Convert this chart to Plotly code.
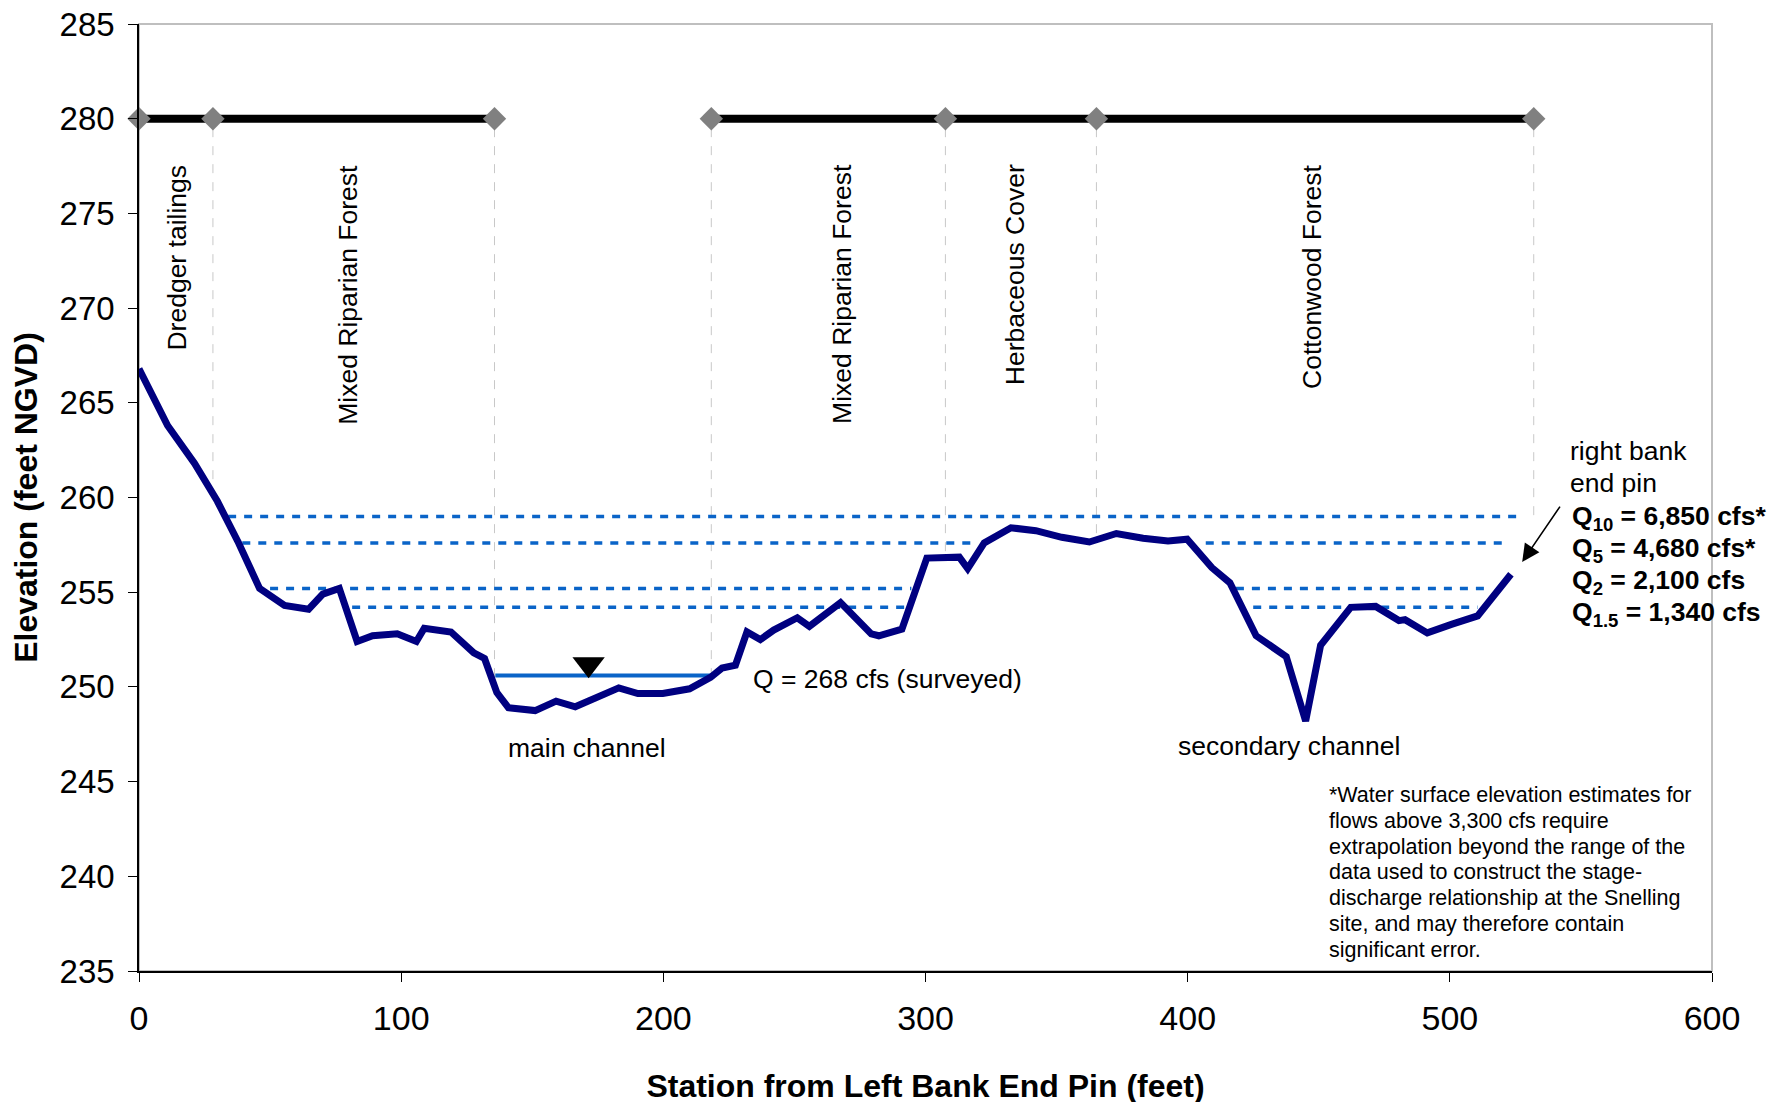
import plotly.graph_objects as go

# ground profile (station ft, elevation ft NGVD)
station = [0, 10.9, 21.2, 29.9, 38.0, 46.0, 55.5, 64.7, 70.1, 76.4,
           83.2, 89.1, 98.5, 105.8, 108.8, 119.0, 127.7, 131.8, 136.5, 140.9,
           151.1, 159.1, 166.4, 175.6, 183.0, 190.3, 199.8, 210.0, 218.0, 222.4,
           227.5, 231.9, 237.0, 242.1, 251.1, 255.7, 267.6, 279.3, 282.2, 291.0,
           300.5, 312.9, 316.1, 322.4, 332.6, 342.1, 352.0, 362.5, 372.8, 383.0,
           392.5, 399.8, 409.2, 416.1, 426.1, 437.6, 445.0, 450.7, 462.2, 471.7,
           480.6, 482.9, 491.4, 500.6, 510.6, 523.3]
elevation = [266.8, 263.8, 261.8, 259.8, 257.6, 255.2, 254.3, 254.1, 254.9, 255.2,
             252.4, 252.7, 252.8, 252.4, 253.1, 252.9, 251.8, 251.5, 249.7, 248.9,
             248.75, 249.25, 248.95, 249.55, 249.95, 249.65, 249.65, 249.9, 250.5, 251.0,
             251.15, 252.9, 252.5, 253.0, 253.65, 253.2, 254.45, 252.8, 252.7, 253.05,
             256.8, 256.85, 256.25, 257.6, 258.4, 258.25, 257.9, 257.65, 258.1, 257.85,
             257.7, 257.8, 256.3, 255.5, 252.7, 251.6, 248.2, 252.2, 254.2, 254.25,
             253.5, 253.55, 252.85, 253.3, 253.75, 255.95]

# vegetation boundaries along the top line
boundary_x = [0, 28.2, 135.6, 218.3, 307.6, 365.2, 532.0]
boundary_floor = [266.8, 260.5, 250.0, 250.6, 256.9, 257.7, 259.0]
band_elev = 280
veg_names = ["Dredger tailings", "Mixed Riparian Forest", "Mixed Riparian Forest",
             "Herbaceous Cover", "Cottonwood Forest"]
veg_x = [14.6, 79.9, 268.4, 333.9, 447.5]

# modelled water surfaces: elevation and wetted segments
wse_elev = [259.0, 257.6, 255.2, 254.2]
wse_segments = [
    [(34.0, 528.3)],
    [(39.4, 318.0), (406.9, 520.6)],
    [(50.0, 294.6), (418.4, 516.0)],
    [(81.3, 293.2), (425.0, 510.6)],
]
wse_labels = ["Q<sub>10</sub> = 6,850 cfs*", "Q<sub>5</sub> = 4,680 cfs*",
              "Q<sub>2</sub> = 2,100 cfs", "Q<sub>1.5</sub> = 1,340 cfs"]

# surveyed water surface
survey_elev = 250.6
survey_x = [135.9, 218.3]
survey_marker = (171.5, 251.2)

note_lines = ["*Water surface elevation estimates for",
              "flows above 3,300 cfs require",
              "extrapolation beyond the range of the",
              "data used to construct the stage-",
              "discharge relationship at the Snelling",
              "site, and may therefore contain",
              "significant error."]

FONT = "Arial, Liberation Sans, sans-serif"
BLUE = "#0A64C8"

fig = go.Figure()

# thin drop lines from boundary markers to ground
for bx, fl in zip(boundary_x[1:], boundary_floor[1:]):
    fig.add_shape(type="line", x0=bx, x1=bx, y0=band_elev - 0.5, y1=fl,
                  line=dict(color="#C8C8C8", width=1, dash="dash"), layer="below")

# water surface lines (dashed)
for lev, segs in zip(wse_elev, wse_segments):
    xs, ys = [], []
    for a, b in segs:
        xs += [a, b, None]
        ys += [lev, lev, None]
    fig.add_trace(go.Scatter(x=xs, y=ys, mode="lines",
                             line=dict(color=BLUE, width=3.5, dash="8px,8px"),
                             hoverinfo="skip"))

# surveyed water surface
fig.add_trace(go.Scatter(x=survey_x, y=[survey_elev] * 2, mode="lines",
                         line=dict(color=BLUE, width=4)))
fig.add_trace(go.Scatter(x=[survey_marker[0]], y=[survey_marker[1]], mode="markers",
                         marker=dict(symbol="triangle-down", size=28, color="black")))

# ground profile
fig.add_trace(go.Scatter(x=station, y=elevation, mode="lines",
                         line=dict(color="#000080", width=7)))

# vegetation band line
band_x = boundary_x[:3] + [None] + boundary_x[3:]
band_y = [band_elev if v is not None else None for v in band_x]
fig.add_trace(go.Scatter(x=band_x, y=band_y, mode="lines+markers",
                         line=dict(color="black", width=8),
                         marker=dict(symbol="diamond", size=18, color="#808080"),
                         cliponaxis=False))

# vegetation labels
for name, vx in zip(veg_names, veg_x):
    fig.add_annotation(x=vx, y=277.7, text=name, textangle=-90, showarrow=False,
                       xanchor="center", yanchor="top",
                       font=dict(family=FONT, size=26.5, color="black"))

# other text
ann_font = dict(family=FONT, size=26.5, color="black")
fig.add_annotation(x=233.5, y=250.4, text="Q = 268 cfs (surveyed)", showarrow=False,
                   xanchor="left", yanchor="middle", font=ann_font)
fig.add_annotation(x=170.7, y=246.75, text="main channel", showarrow=False,
                   xanchor="center", yanchor="middle", font=ann_font)
fig.add_annotation(x=438.8, y=246.9, text="secondary channel", showarrow=False,
                   xanchor="center", yanchor="middle", font=ann_font)
fig.add_annotation(x=545.2, y=262.45, text="right bank", showarrow=False,
                   xanchor="left", yanchor="middle", font=ann_font)
fig.add_annotation(x=545.2, y=260.75, text="end pin", showarrow=False,
                   xanchor="left", yanchor="middle", font=ann_font)
for i, lab in enumerate(wse_labels):
    fig.add_annotation(x=545.9, y=258.9 - 1.68 * i, text="<b>" + lab + "</b>",
                       showarrow=False, xanchor="left", yanchor="middle",
                       font=dict(family=FONT, size=26.5, color="black"))

# arrow to right bank end pin
fig.add_annotation(x=527.6, y=256.6, ax=542.4, ay=259.6, xref="x", yref="y",
                   axref="x", ayref="y", text="", showarrow=True,
                   arrowhead=2, arrowsize=2.2, arrowwidth=1.6, arrowcolor="black")

# footnote, one line at a time to keep Excel-like spacing
for i, line in enumerate(note_lines):
    fig.add_annotation(x=453.3, y=244.29 - 1.36 * i, text=line, showarrow=False,
                       xanchor="left", yanchor="middle",
                       font=dict(family=FONT, size=21.5, color="black"))

# light grey frame for top/right
fig.add_shape(type="rect", xref="x domain", yref="y domain", x0=0, x1=1, y0=0, y1=1,
              line=dict(color="#BFBFBF", width=2), layer="below")

fig.update_xaxes(range=[0, 600], dtick=100, tick0=0, showgrid=False, zeroline=False,
                 showline=True, linecolor="black", linewidth=2, automargin=False,
                 ticks="outside", ticklen=9, tickcolor="black",
                 ticklabelstandoff=7,
                 tickfont=dict(family=FONT, size=34, color="black"),
                 title=dict(text="<b>Station from Left Bank End Pin (feet)</b>",
                            font=dict(family=FONT, size=32, color="black"), standoff=39))
fig.update_yaxes(range=[235, 285], dtick=5, tick0=235, showgrid=False, zeroline=False,
                 showline=True, linecolor="black", linewidth=1.5, automargin=False,
                 ticks="outside", ticklen=9, tickcolor="black",
                 ticklabelstandoff=7, ticklabeloverflow="allow",
                 tickfont=dict(family=FONT, size=33, color="black"),
                 title=dict(text="<b>Elevation (feet NGVD)</b>",
                            font=dict(family=FONT, size=32, color="black"), standoff=14))

fig.update_layout(width=1781, height=1102, showlegend=False,
                  margin=dict(l=131, r=77, t=16, b=139),
                  plot_bgcolor="white", paper_bgcolor="white")

fig.write_html("out.html")
